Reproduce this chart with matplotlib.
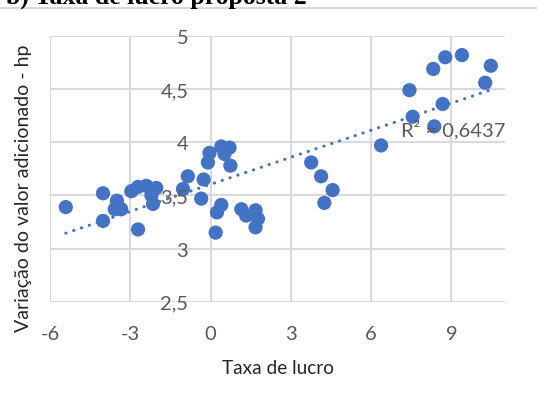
import numpy as np
import matplotlib
matplotlib.use("Agg")
import matplotlib.pyplot as plt
from matplotlib.lines import Line2D

# points
taxa_lucro = [-5.41, -4.02, -4.02, -3.50, -3.58, -3.34, -2.96, -2.71, -2.40, -2.03,
              -2.21, -2.15, -2.71, -0.85, -1.03, -0.35, -0.26, -0.04, -0.10, 0.40,
              0.71, 0.52, 0.74, 0.40, 0.24, 0.19, 1.15, 1.33, 1.68, 1.77,
              1.68, 3.76, 4.13, 4.56, 4.25, 6.37, 7.43, 7.55, 8.36, 8.67,
              8.32, 8.77, 9.39, 10.47, 10.26]
variacao_va = [3.39, 3.52, 3.26, 3.45, 3.37, 3.37, 3.54, 3.58, 3.59, 3.57,
               3.50, 3.42, 3.18, 3.68, 3.56, 3.47, 3.65, 3.90, 3.81, 3.96,
               3.95, 3.89, 3.78, 3.41, 3.34, 3.15, 3.37, 3.31, 3.36, 3.28,
               3.20, 3.81, 3.68, 3.55, 3.43, 3.97, 4.49, 4.24, 4.15, 4.36,
               4.69, 4.80, 4.82, 4.72, 4.56]

x_ticks = [-6, -3, 0, 3, 6, 9]
x_labels = ["-6", "-3", "0", "3", "6", "9"]
y_ticks = [2.5, 3, 3.5, 4, 4.5, 5]
y_labels = ["2,5", "3", "3,5", "4", "4,5", "5"]
r2_text = "R² = 0,6437"

blue = "#4472C4"
grid_col = "#d9d9d9"
txt_col = "#595959"

plt.rcParams['font.family'] = ['Lato', 'DejaVu Sans']

fig = plt.figure(figsize=(5.37, 4.10), dpi=100)
ax = fig.add_axes([0.0931, 0.2617, 0.8473, 0.6481])

# title of the panel, cut at the top of the picture
fig.text(0.012, 1 - 3.5 / 410, "b) Taxa de lucro proposta 2", family="Liberation Serif",
         fontweight="bold", fontsize=18.5, va="baseline", ha="left", color="black")
fig.add_artist(Line2D([0, 1], [1 - 9 / 410, 1 - 9 / 410], transform=fig.transFigure,
                      color=grid_col, lw=1.5))

for yv in y_ticks:
    ax.axhline(yv, color=grid_col, lw=1.5, zorder=0)
for xv in x_ticks:
    ax.axvline(xv, color=grid_col, lw=1.5, zorder=0)

ax.scatter(taxa_lucro, variacao_va, s=105, color=blue, edgecolors="none", zorder=2)

# linear trendline
a, b = np.polyfit(taxa_lucro, variacao_va, 1)
xt = np.array([min(taxa_lucro), max(taxa_lucro)])
ax.plot(xt, a * xt + b, color=blue, lw=2.2, linestyle=(0, (0.1, 2.6)),
        dash_capstyle="round", zorder=3)

ax.text(7.1, 4.13, r2_text, fontsize=14.5, color=txt_col, va="center", ha="left",
        zorder=6, clip_on=False)

ax.set_xlim(-6, 11)
ax.set_ylim(2.5, 5)
for s in ax.spines.values():
    s.set_visible(False)
ax.spines['left'].set_position(('data', 0))

ax.set_xticks(x_ticks)
ax.set_xticklabels(x_labels)
ax.set_yticks(y_ticks)
ax.set_yticklabels(y_labels)
ax.tick_params(axis="both", length=0, labelsize=14.5, labelcolor=txt_col)
ax.tick_params(axis="x", pad=17)
ax.tick_params(axis="y", pad=16)
ax.yaxis.set_zorder(5)

ax.set_xlabel("Taxa de lucro", fontsize=13.7, color="#262626", labelpad=12)
fig.text(24 / 537, 1 - 188 / 410, "Variação do valor adicionado - hp", rotation=90,
         fontsize=14, color="#262626", ha="center", va="center")

fig.savefig("out.png", dpi=100)
